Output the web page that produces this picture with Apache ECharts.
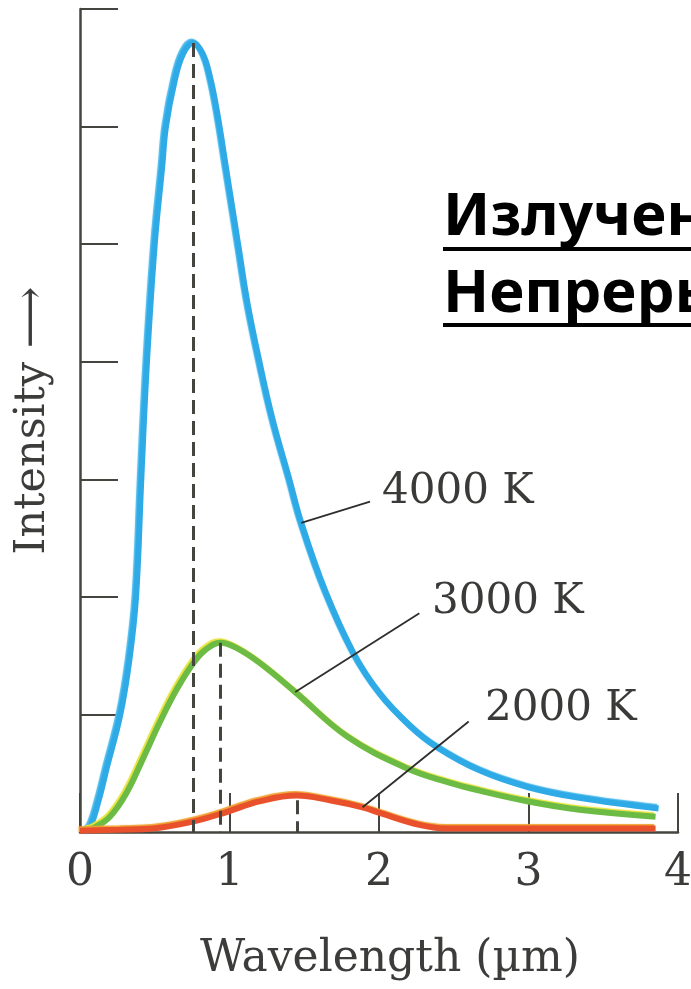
<!DOCTYPE html>
<html>
<head>
<meta charset="utf-8">
<script src="https://cdn.jsdelivr.net/npm/echarts@6/dist/echarts.min.js"></script>
<style>
  html, body { margin: 0; padding: 0; background: #fff; }
  #chart { width: 691px; height: 989px; }
</style>
</head>
<body>
<div id="chart"></div>
<script>
// длина волны (мкм) и интенсивность (усл. ед., одно деление = 1)
const wl4000 = [0.03, 0.07, 0.125, 0.18, 0.27, 0.33, 0.375, 0.41, 0.448, 0.50, 0.55, 0.575, 0.635, 0.69, 0.756,
                0.82, 0.87, 0.92, 0.98, 1.06, 1.12, 1.20, 1.29, 1.40, 1.48, 1.64, 1.83, 2.01, 2.21, 2.39, 2.68, 3.00, 3.34, 3.87];
const in4000 = [0.00, 0.05, 0.27, 0.55, 1.00, 1.46, 2.00, 3.00, 4.00, 5.00, 5.66, 6.00, 6.40, 6.62, 6.71,
                6.62, 6.42, 6.10, 5.62, 4.98, 4.50, 4.00, 3.50, 3.00, 2.63, 2.05, 1.52, 1.17, 0.90, 0.72, 0.52, 0.38, 0.29, 0.20];

const wl3000 = [0.05, 0.10, 0.20, 0.31, 0.42, 0.54, 0.65, 0.76, 0.84, 0.94, 1.04, 1.20, 1.44, 1.79, 2.19, 2.47, 2.68, 3.00, 3.34, 3.85];
const in3000 = [0.02, 0.04, 0.13, 0.33, 0.62, 0.95, 1.22, 1.44, 1.55, 1.61, 1.57, 1.44, 1.19, 0.81, 0.54, 0.42, 0.35, 0.26, 0.19, 0.13];

const wl2000 = [0.00, 0.27, 0.49, 0.76, 0.98, 1.20, 1.45, 1.67, 1.89, 2.01, 2.27, 2.45, 2.81, 3.48, 3.85];
const in2000 = [0.01, 0.02, 0.03, 0.09, 0.17, 0.26, 0.31, 0.27, 0.21, 0.16, 0.06, 0.03, 0.03, 0.03, 0.03];

// максимумы (пунктир вниз до оси)
const peak4000 = [0.756, 6.71];
const peak3000 = [0.936, 1.61];
const peak2000 = [1.45, 0.27];

// выноски к подписям
const lead4000 = [[1.48, 2.63], [1.94, 2.81]];
const lead3000 = [[1.44, 1.19], [2.27, 1.86]];
const lead2000 = [[1.89, 0.21], [2.60, 0.94]];

const names = ['4000 K', '3000 K', '2000 K'];

const chart = echarts.init(document.getElementById('chart'));

const ink = '#45453f';
const serif = '"DejaVu Serif", serif';

const pairs = (xs, ys) => xs.map((x, i) => [x, ys[i]]);

const dashStyle = { color: ink, width: 3, type: [14, 7] };
const leadStyle = { color: '#2e2e2e', width: 1.8, type: 'solid' };

function curve(name, xs, ys, color, edge, peak, lead) {
  return {
    name: name,
    type: 'line',
    data: pairs(xs, ys),
    smooth: 0.4,
    symbol: 'none',
    silent: true,
    z: 3,
    lineStyle: {
      color: color,
      width: 6,
      shadowColor: edge,
      shadowBlur: 1,
      shadowOffsetX: -1.5,
      shadowOffsetY: -1.5
    },
    markLine: {
      silent: true,
      symbol: ['none', 'none'],
      animation: false,
      label: { show: false },
      data: [
        [{ coord: peak, lineStyle: dashStyle }, { coord: [peak[0], 0], lineStyle: dashStyle }],
        [{ coord: lead[0], lineStyle: leadStyle }, { coord: lead[1], lineStyle: leadStyle }]
      ]
    }
  };
}

chart.setOption({
  animation: false,
  backgroundColor: '#fff',
  grid: { left: 80, right: 13, top: 9, bottom: 157, containLabel: false, outerBoundsMode: 'none' },
  xAxis: {
    type: 'value',
    min: 0,
    max: 4,
    interval: 1,
    name: 'Wavelength (µm)',
    nameLocation: 'middle',
    nameGap: 106,
    nameTextStyle: { fontFamily: serif, fontSize: 44, color: '#3c3c3a', padding: [0, 0, 0, 22] },
    axisLine: { show: true, lineStyle: { color: ink, width: 2.5 } },
    axisTick: { show: true, inside: true, length: 39, lineStyle: { color: ink, width: 2 } },
    axisLabel: { fontFamily: serif, fontSize: 44, color: '#3c3c3a', margin: 20 },
    splitLine: { show: false }
  },
  yAxis: {
    type: 'value',
    min: 0,
    max: 7,
    interval: 1,
    name: 'Intensity ⟶',
    nameLocation: 'middle',
    nameGap: 26,
    nameTextStyle: { fontFamily: serif, fontSize: 43, color: '#3c3c3a' },
    axisLine: { show: true, lineStyle: { color: ink, width: 2.5 } },
    axisTick: { show: true, inside: true, length: 38, lineStyle: { color: ink, width: 2 } },
    axisLabel: { show: false },
    splitLine: { show: false }
  },
  series: [
    curve(names[0], wl4000, in4000, '#2eaae6', '#4bb8ea', peak4000, lead4000),
    curve(names[1], wl3000, in3000, '#6cbb45', '#e6e23a', peak3000, lead3000),
    curve(names[2], wl2000, in2000, '#e8512c', '#f0a030', peak2000, lead2000)
  ]
});

// подписи температур — рядом с концом выносок
const labelAt = [[2.02, 2.89], [2.355, 1.956], [2.709, 1.046]];
const labels = names.map((n, i) => {
  const p = chart.convertToPixel({ gridIndex: 0 }, labelAt[i]);
  return {
    type: 'text',
    x: p[0],
    y: p[1],
    silent: true,
    style: { text: n, font: '42px ' + serif, fill: '#3a3a38', align: 'left', verticalAlign: 'middle' }
  };
});

const titleFont = 'bold 60px "Noto Sans", sans-serif';
chart.setOption({
  graphic: labels.concat([
    { type: 'text', x: 443, y: 218, silent: true,
      style: { text: 'Излучение', font: titleFont, fill: '#000', verticalAlign: 'middle' } },
    { type: 'rect', silent: true, shape: { x: 443, y: 247, width: 260, height: 4 }, style: { fill: '#000' } },
    { type: 'text', x: 443, y: 295, silent: true,
      style: { text: 'Непрерывный спектр', font: titleFont, fill: '#000', verticalAlign: 'middle' } },
    { type: 'rect', silent: true, shape: { x: 443, y: 323, width: 260, height: 4 }, style: { fill: '#000' } }
  ])
});
</script>
</body>
</html>
